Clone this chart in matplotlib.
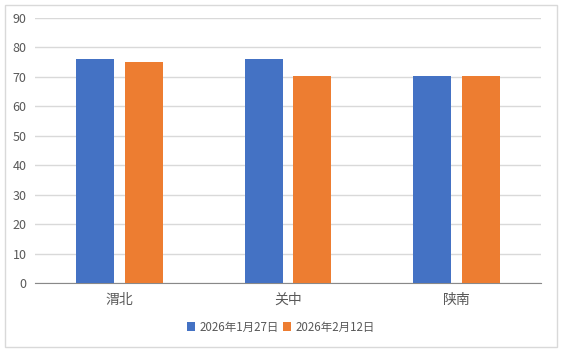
import numpy as np
import matplotlib; matplotlib.use("Agg")
import matplotlib.pyplot as plt
from matplotlib.patches import Rectangle

plt.rcParams['font.family'] = ['Noto Sans CJK SC', 'DejaVu Sans']

regions = ["渭北", "关中", "陕南"]
series = ["2026年1月27日", "2026年2月12日"]
jan27 = [76.1, 76.1, 70.3]
feb12 = [75.1, 70.3, 70.3]
colors = ["#4472c4", "#ed7d31"]

fig = plt.figure(figsize=(5.62, 3.52), dpi=100)
ax = fig.add_axes([35/562, 1-283/352, (541-35)/562, (283-18)/352])
fig.patches.append(Rectangle((5/562, 5/352), 552/562, 342/352, transform=fig.transFigure,
                             fill=False, edgecolor="#d9d9d9", lw=1))

x = np.arange(len(regions))
w = 0.225
ax.bar(x - 0.145, jan27, w, color=colors[0], label=series[0], zorder=3)
ax.bar(x + 0.145, feb12, w, color=colors[1], label=series[1], zorder=3)

ax.set_xlim(-0.5, 2.5); ax.set_ylim(0, 90)
ax.set_yticks(range(0, 91, 10))
ax.yaxis.grid(True, color="#d9d9d9", lw=1, zorder=0)
ax.set_xticks(x); ax.set_xticklabels(regions)
for s in ["left", "right", "top"]:
    ax.spines[s].set_visible(False)
ax.spines["bottom"].set_color("#898989")
ax.tick_params(length=0, labelsize=9, labelcolor="#595959")
ax.tick_params(axis="x", pad=7, labelsize=10)
ax.tick_params(axis="y", pad=6)

fig.legend(loc="center", bbox_to_anchor=(0.5, 1-327/352), ncol=2, frameon=False,
           fontsize=8.3, handlelength=0.7, handleheight=0.7, handletextpad=0.4,
           columnspacing=0.4, labelcolor="#595959")
fig.savefig("out.png", dpi=100)
